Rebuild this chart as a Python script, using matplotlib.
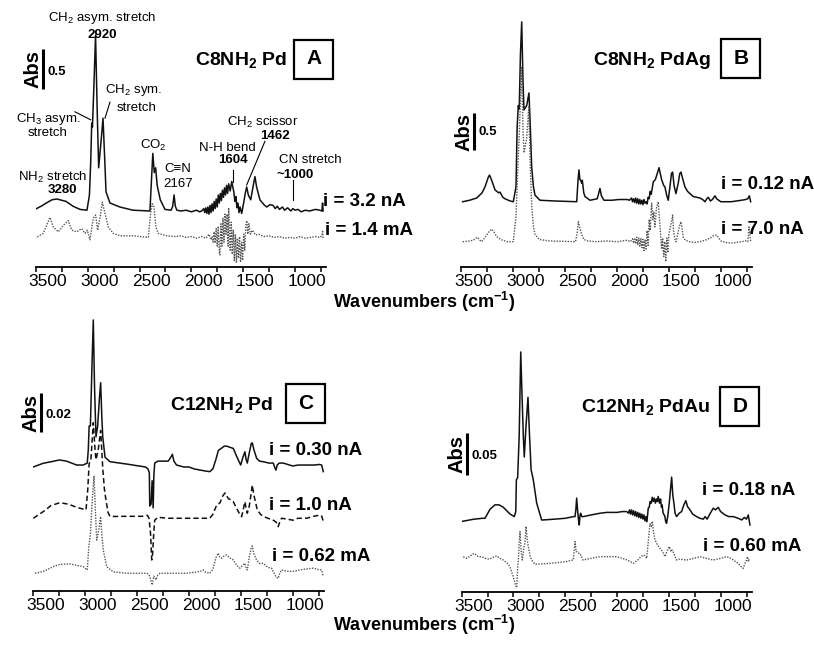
import numpy as np
import matplotlib.pyplot as plt
from matplotlib.patches import Rectangle
from matplotlib.transforms import ScaledTranslation

plt.rcParams['font.family'] = ['Liberation Sans', 'DejaVu Sans']
plt.rcParams['mathtext.fontset'] = 'custom'
plt.rcParams['mathtext.rm'] = 'Liberation Sans'
plt.rcParams['mathtext.bf'] = 'Liberation Sans:bold'
plt.rcParams['mathtext.it'] = 'Liberation Sans:italic'

# ---- spectra: (wavenumber cm-1, absorbance above own baseline)
a_solid = [
    (3510, 0.02), (3450, 0.06), (3400, 0.10), (3346, 0.14), (3300, 0.15), (3268, 0.14),
    (3210, 0.12), (3143, 0.06), (3075, 0.02), (3008, 0.01), (2984, 0.2), (2972, 0.6),
    (2962, 1.1), (2955, 1.05), (2940, 1.6), (2925, 2.2), (2910, 1.3), (2895, 0.54),
    (2870, 0.9), (2853, 1.16), (2835, 0.6), (2824, 0.24), (2786, 0.1), (2690, 0.05),
    (2564, 0.01), (2400, 0.0), (2390, 0.26), (2372, 0.72), (2358, 0.48), (2345, 0.54),
    (2330, 0.32), (2300, 0.14), (2255, 0.02), (2195, 0.01), (2180, 0.06), (2167, 0.2),
    (2155, 0.06), (2140, 0.01), (2100, 0.0), (2050, 0.01), (2000, -0.01), (1950, 0.01),
    (1920, -0.01), (1900, 0.0), (1880, 0.03), (1870, -0.02), (1860, 0.04), (1850, -0.03),
    (1840, 0.05), (1830, -0.04), (1820, 0.07), (1810, -0.02), (1800, 0.09), (1790, 0.0),
    (1780, 0.12), (1770, 0.03), (1760, 0.15), (1750, 0.05), (1740, 0.2), (1730, 0.1),
    (1720, 0.22), (1710, 0.13), (1700, 0.26), (1690, 0.17), (1680, 0.29), (1670, 0.2),
    (1660, 0.32), (1650, 0.22), (1640, 0.34), (1625, 0.25), (1610, 0.37), (1600, 0.3),
    (1590, 0.24), (1580, 0.12), (1570, 0.18), (1560, 0.04), (1550, 0.1), (1540, -0.02),
    (1530, 0.05), (1514, -0.03), (1495, 0.1), (1480, 0.22), (1466, 0.3), (1450, 0.2),
    (1427, 0.14), (1405, 0.3), (1386, 0.43), (1370, 0.3), (1338, 0.14), (1300, 0.08),
    (1273, 0.05), (1240, 0.08), (1212, 0.07), (1190, 0.03), (1170, 0.06), (1150, 0.02),
    (1120, 0.05), (1100, 0.01), (1070, 0.04), (1040, 0.0), (1020, 0.03), (1000, 0.01),
    (970, 0.02), (940, -0.01), (900, 0.01), (860, 0.0), (800, 0.02), (760, 0.01),
    (740, 0.0), (733, 0.1), (728, 0.0),
]
a_dotted = [
    (3510, 0.0), (3430, 0.06), (3365, 0.26), (3333, 0.14), (3285, 0.08), (3236, 0.16),
    (3188, 0.22), (3155, 0.1), (3107, 0.08), (3059, 0.12), (3027, 0.06), (3005, 0.1),
    (2979, -0.02), (2947, 0.25), (2924, 0.29), (2905, 0.1), (2882, 0.26), (2860, 0.45),
    (2834, 0.31), (2802, 0.14), (2754, 0.06), (2689, 0.03), (2561, 0.03), (2416, 0.01),
    (2393, 0.31), (2378, 0.43), (2361, 0.39), (2342, 0.14), (2320, 0.06), (2238, 0.03),
    (2150, 0.02), (2100, 0.03), (2050, 0.01), (2000, 0.02), (1950, 0.0), (1900, 0.02),
    (1860, 0.0), (1830, 0.05), (1810, -0.02), (1800, 0.02), (1790, -0.05), (1780, 0.08),
    (1770, -0.06), (1760, 0.12), (1750, -0.1), (1740, 0.15), (1730, -0.18), (1724, -0.21),
    (1715, 0.18), (1705, -0.1), (1695, 0.25), (1685, -0.05), (1675, 0.3), (1665, 0.05),
    (1655, 0.3), (1645, -0.1), (1640, 0.38), (1625, -0.15), (1615, 0.2), (1605, -0.2),
    (1595, 0.1), (1585, -0.28), (1575, 0.05), (1565, -0.3), (1555, 0.0), (1545, -0.25),
    (1535, 0.02), (1525, -0.3), (1515, -0.05), (1505, -0.28), (1495, 0.05), (1485, -0.15),
    (1475, 0.15), (1465, 0.22), (1455, 0.05), (1445, 0.18), (1430, 0.05), (1410, 0.1),
    (1380, 0.04), (1350, 0.05), (1300, 0.02), (1250, 0.03), (1200, 0.01), (1150, 0.02),
    (1100, 0.0), (1050, 0.01), (1000, 0.0), (950, 0.02), (900, 0.0), (850, 0.01),
    (800, 0.02), (760, 0.01), (740, 0.03), (733, 0.1), (728, 0.0),
]
b_solid = [
    (3487, 0.0), (3420, 0.02), (3352, 0.05), (3300, 0.12), (3272, 0.2), (3240, 0.33),
    (3228, 0.36), (3210, 0.3), (3175, 0.16), (3140, 0.12), (3127, 0.13), (3100, 0.06),
    (3079, 0.04), (3030, 0.01), (2999, 0.0), (2973, 0.2), (2962, 1.0), (2951, 1.3),
    (2942, 1.25), (2930, 2.0), (2918, 2.43), (2905, 1.6), (2896, 1.24), (2870, 1.3),
    (2848, 1.47), (2835, 1.0), (2822, 0.47), (2805, 0.2), (2790, 0.09), (2742, 0.02),
    (2600, 0.01), (2388, 0.0), (2375, 0.3), (2366, 0.43), (2358, 0.3), (2350, 0.29),
    (2340, 0.25), (2334, 0.29), (2320, 0.12), (2308, 0.07), (2260, 0.02), (2190, 0.04),
    (2175, 0.12), (2164, 0.18), (2150, 0.08), (2125, 0.02), (2050, 0.02), (1980, 0.03),
    (1900, 0.03), (1880, 0.02), (1860, 0.05), (1850, 0.0), (1840, 0.04), (1830, -0.01),
    (1820, 0.05), (1810, -0.02), (1800, 0.04), (1790, -0.03), (1780, 0.03), (1770, -0.03),
    (1760, 0.02), (1750, -0.04), (1740, 0.03), (1730, -0.02), (1720, 0.0), (1710, -0.03),
    (1700, 0.06), (1690, 0.04), (1680, 0.14), (1670, 0.1), (1650, 0.27), (1630, 0.3),
    (1612, 0.38), (1595, 0.46), (1570, 0.3), (1550, 0.22), (1538, 0.2), (1520, 0.08),
    (1506, 0.02), (1490, 0.2), (1475, 0.38), (1464, 0.4), (1450, 0.22), (1432, 0.11),
    (1410, 0.25), (1395, 0.38), (1383, 0.4), (1365, 0.3), (1345, 0.2), (1320, 0.14),
    (1297, 0.11), (1265, 0.07), (1230, 0.06), (1200, 0.05), (1175, 0.03), (1152, 0.0),
    (1135, 0.04), (1120, 0.06), (1100, 0.01), (1080, 0.03), (1056, 0.08), (1040, 0.04),
    (1020, 0.02), (1000, 0.0), (950, 0.0), (900, 0.0), (850, 0.01), (800, 0.02),
    (760, 0.03), (740, 0.04), (725, 0.08), (712, 0.0),
]
b_dotted = [
    (3487, 0.0), (3420, 0.01), (3384, 0.02), (3346, 0.06), (3320, 0.02), (3304, 0.0),
    (3260, 0.08), (3230, 0.14), (3207, 0.17), (3180, 0.12), (3159, 0.07), (3120, 0.03),
    (3063, 0.0), (2999, 0.0), (2973, 0.34), (2955, 1.0), (2940, 1.5), (2920, 2.35),
    (2905, 1.5), (2895, 1.2), (2870, 1.4), (2850, 1.82), (2835, 1.0), (2822, 0.5),
    (2805, 0.2), (2790, 0.1), (2750, 0.03), (2650, 0.01), (2400, 0.0), (2385, 0.1),
    (2373, 0.27), (2360, 0.2), (2350, 0.15), (2340, 0.1), (2320, 0.03), (2280, 0.01),
    (2200, 0.0), (2100, 0.01), (2000, 0.0), (1950, 0.01), (1900, 0.02), (1870, 0.0),
    (1850, 0.04), (1840, -0.02), (1830, 0.05), (1820, -0.03), (1810, 0.06), (1800, -0.04),
    (1790, 0.05), (1780, -0.06), (1770, 0.04), (1760, -0.08), (1750, 0.03), (1740, -0.12),
    (1730, 0.02), (1720, -0.1), (1710, 0.15), (1700, -0.05), (1690, 0.3), (1680, 0.15),
    (1666, 0.52), (1655, 0.3), (1645, 0.4), (1635, 0.2), (1620, 0.45), (1602, 0.54),
    (1590, 0.3), (1580, 0.1), (1570, -0.1), (1560, 0.05), (1550, -0.2), (1540, 0.0),
    (1530, -0.27), (1520, 0.05), (1510, -0.15), (1500, 0.1), (1485, 0.2), (1470, 0.3),
    (1464, 0.36), (1455, 0.15), (1440, 0.02), (1430, 0.0), (1415, 0.1), (1400, 0.2),
    (1385, 0.27), (1377, 0.22), (1360, 0.05), (1340, 0.02), (1300, 0.0), (1250, -0.01),
    (1200, 0.0), (1150, 0.02), (1100, 0.05), (1070, 0.08), (1040, 0.09), (1020, 0.05),
    (1000, 0.01), (950, -0.01), (900, -0.02), (850, -0.01), (800, 0.0), (760, 0.01),
    (740, 0.0), (728, 0.2), (712, 0.0),
]
c_solid = [
    (3500, -0.001), (3404, 0.0009), (3300, 0.002), (3249, 0.0026), (3180, 0.002),
    (3082, 0.0), (3020, 0.0), (2980, 0.001), (2970, 0.008), (2962, 0.02), (2950, 0.02),
    (2935, 0.05), (2922, 0.0744), (2910, 0.04), (2896, 0.0144), (2880, 0.02), (2862, 0.035),
    (2851, 0.0422), (2840, 0.025), (2831, 0.0145), (2809, 0.004), (2761, 0.0017),
    (2600, 0.0005), (2420, -0.001), (2395, -0.002), (2382, -0.004), (2378, -0.021),
    (2365, -0.02), (2355, -0.008), (2345, -0.022), (2338, -0.005), (2330, 0.001),
    (2300, 0.002), (2250, 0.002), (2200, 0.002), (2175, 0.004), (2160, 0.0055),
    (2145, 0.002), (2120, 0.0), (2050, -0.001), (2000, -0.001), (1950, -0.002),
    (1900, -0.0025), (1850, -0.003), (1800, -0.0034), (1770, -0.002), (1740, 0.003),
    (1717, 0.0075), (1690, 0.0085), (1660, 0.0097), (1637, 0.0097), (1600, 0.009),
    (1573, 0.0085), (1545, 0.005), (1525, 0.0026), (1502, 0.0), (1480, 0.004),
    (1461, 0.0068), (1450, 0.003), (1438, 0.001), (1420, 0.006), (1400, 0.011),
    (1390, 0.0114), (1375, 0.008), (1348, 0.0034), (1320, 0.002), (1284, 0.0017),
    (1230, 0.001), (1188, 0.001), (1175, -0.001), (1162, -0.0026), (1150, 0.0),
    (1130, 0.001), (1091, 0.001), (1000, -0.0005), (950, 0.0), (866, 0.0), (786, 0.0),
    (745, 0.0003), (722, 0.0), (706, -0.0034),
]
c_dashed = [
    (3500, 0.0), (3404, 0.0034), (3330, 0.0065), (3243, 0.008), (3160, 0.0072),
    (3082, 0.0056), (2992, 0.0043), (2975, 0.015), (2962, 0.028), (2945, 0.03),
    (2922, 0.049), (2905, 0.035), (2896, 0.03), (2875, 0.035), (2851, 0.045),
    (2830, 0.025), (2815, 0.015), (2800, 0.0094), (2780, 0.003), (2761, 0.0009),
    (2600, 0.001), (2450, 0.001), (2400, 0.0015), (2385, 0.0), (2370, -0.008),
    (2359, -0.0214), (2350, -0.018), (2340, -0.008), (2330, -0.001), (2300, 0.0005),
    (2200, 0.0), (2100, 0.0), (2000, 0.0), (1900, 0.0), (1800, 0.0), (1770, 0.002),
    (1733, 0.0068), (1700, 0.008), (1680, 0.011), (1653, 0.013), (1620, 0.01),
    (1595, 0.0095), (1573, 0.0085), (1540, 0.005), (1510, 0.002), (1493, 0.0008),
    (1475, 0.005), (1461, 0.0085), (1450, 0.005), (1438, 0.0026), (1420, 0.006),
    (1400, 0.013), (1390, 0.017), (1375, 0.012), (1342, 0.0043), (1310, 0.002),
    (1284, 0.001), (1240, 0.0), (1188, -0.001), (1160, -0.002), (1140, -0.0043),
    (1120, -0.001), (1108, 0.0), (1050, -0.0005), (996, -0.001), (950, 0.0), (866, 0.0),
    (800, 0.001), (750, 0.0015), (738, 0.0017), (720, 0.001), (706, -0.0017),
]
c_dotted = [
    (3484, 0.0), (3404, 0.0009), (3307, 0.0034), (3250, 0.0045), (3146, 0.0048),
    (3080, 0.004), (3018, 0.0034), (2980, 0.0017), (2965, 0.0137), (2950, 0.02),
    (2935, 0.035), (2915, 0.05), (2900, 0.03), (2889, 0.017), (2870, 0.022),
    (2851, 0.029), (2840, 0.02), (2826, 0.012), (2793, 0.0034), (2729, 0.0007),
    (2600, 0.0), (2408, 0.0), (2390, -0.0005), (2376, -0.0017), (2365, -0.004),
    (2353, -0.006), (2340, -0.0015), (2330, -0.002), (2318, -0.0034), (2300, -0.001),
    (2280, 0.0), (2150, 0.0), (2022, 0.0), (1950, 0.0005), (1894, 0.0009),
    (1862, 0.0017), (1840, 0.0005), (1800, 0.0), (1770, 0.002), (1740, 0.008),
    (1718, 0.0103), (1700, 0.008), (1686, 0.0077), (1660, 0.009), (1637, 0.0094),
    (1610, 0.008), (1573, 0.0068), (1540, 0.004), (1509, 0.0026), (1485, 0.004),
    (1461, 0.0051), (1445, 0.002), (1438, 0.0017), (1420, 0.008), (1400, 0.013),
    (1390, 0.014), (1375, 0.01), (1348, 0.0068), (1320, 0.005), (1284, 0.0051),
    (1240, 0.003), (1204, 0.0026), (1180, 0.0), (1160, -0.002), (1140, -0.0026),
    (1125, 0.0), (1108, 0.0017), (1050, 0.001), (996, 0.001), (900, 0.002),
    (803, 0.0026), (760, 0.002), (722, 0.0017), (706, -0.0017),
]
d_solid = [
    (3510, -0.002), (3388, 0.0008), (3300, 0.002), (3275, 0.002), (3227, 0.0127),
    (3179, 0.018), (3140, 0.018), (3098, 0.0151), (3034, 0.0071), (2992, 0.004),
    (2978, 0.01), (2972, 0.048), (2960, 0.05), (2945, 0.1), (2930, 0.2), (2918, 0.15),
    (2905, 0.1), (2896, 0.075), (2880, 0.11), (2860, 0.146), (2845, 0.1), (2830, 0.06),
    (2809, 0.048), (2776, 0.02), (2728, 0.0), (2712, 0.0), (2600, 0.001), (2500, 0.002),
    (2420, 0.004), (2406, 0.004), (2398, 0.012), (2390, 0.026), (2380, 0.01),
    (2372, 0.0), (2365, -0.006), (2358, 0.005), (2352, 0.008), (2340, 0.004),
    (2325, 0.004), (2250, 0.006), (2165, 0.008), (2100, 0.009), (2000, 0.009),
    (1950, 0.01), (1907, 0.01), (1890, 0.008), (1880, 0.012), (1870, 0.007),
    (1860, 0.012), (1850, 0.006), (1840, 0.011), (1830, 0.005), (1820, 0.01),
    (1810, 0.004), (1800, 0.009), (1790, 0.003), (1780, 0.008), (1770, 0.002),
    (1760, 0.007), (1750, 0.001), (1740, 0.006), (1730, -0.001), (1720, 0.004),
    (1714, -0.002), (1705, 0.006), (1699, 0.014), (1690, 0.015), (1680, 0.022),
    (1670, 0.02), (1660, 0.027), (1650, 0.022), (1640, 0.026), (1630, 0.02),
    (1620, 0.025), (1610, 0.022), (1603, 0.028), (1590, 0.02), (1580, 0.025),
    (1571, 0.015), (1565, 0.018), (1555, 0.008), (1540, 0.005), (1530, -0.002),
    (1522, -0.004), (1510, 0.005), (1496, 0.02), (1485, 0.035), (1473, 0.051),
    (1462, 0.03), (1451, 0.02), (1440, 0.008), (1425, 0.004), (1400, 0.008),
    (1377, 0.01), (1355, 0.018), (1336, 0.023), (1320, 0.016), (1296, 0.012),
    (1270, 0.007), (1232, 0.004), (1200, 0.002), (1167, 0.001), (1150, 0.004),
    (1130, 0.001), (1100, 0.008), (1071, 0.014), (1050, 0.012), (1023, 0.015),
    (1000, 0.01), (958, 0.006), (920, 0.004), (878, 0.004), (830, 0.002), (797, 0.0),
    (770, 0.003), (750, 0.001), (733, 0.006), (717, -0.006),
]
d_dotted = [
    (3510, 0.005), (3450, 0.002), (3381, 0.008), (3340, 0.004), (3307, 0.004),
    (3270, 0.002), (3234, 0.001), (3200, 0.003), (3162, 0.005), (3130, 0.002),
    (3098, 0.0), (3060, -0.004), (3034, -0.008), (3002, -0.02), (2980, -0.03),
    (2969, -0.033), (2960, -0.01), (2953, 0.0), (2945, 0.02), (2937, 0.034),
    (2925, 0.01), (2915, 0.0), (2900, 0.015), (2890, 0.02), (2879, 0.04),
    (2868, 0.025), (2857, 0.016), (2840, 0.005), (2825, 0.0), (2792, -0.005),
    (2648, -0.004), (2500, -0.002), (2423, 0.0), (2415, 0.01), (2406, 0.022),
    (2395, 0.01), (2384, 0.01), (2370, 0.008), (2358, 0.008), (2330, 0.0),
    (2250, 0.002), (2165, 0.004), (2100, 0.004), (2004, 0.004), (1950, 0.002),
    (1900, 0.0), (1843, -0.004), (1800, 0.0), (1770, 0.004), (1747, 0.006),
    (1730, 0.005), (1714, 0.002), (1700, 0.02), (1682, 0.043), (1670, 0.04),
    (1660, 0.046), (1650, 0.035), (1634, 0.024), (1610, 0.018), (1586, 0.014),
    (1560, 0.01), (1538, 0.004), (1520, 0.01), (1496, 0.016), (1480, 0.01),
    (1470, 0.012), (1451, 0.008), (1440, 0.004), (1425, 0.0), (1400, 0.001),
    (1328, 0.0), (1260, 0.002), (1200, 0.004), (1140, 0.002), (1071, 0.0),
    (1000, 0.002), (942, 0.004), (900, 0.002), (878, 0.0), (830, -0.004),
    (800, -0.008), (783, -0.01), (765, -0.004), (750, 0.0), (740, 0.004),
    (733, -0.002), (720, 0.002),
]

# vertical offsets of the stacked spectra (Abs)
a_offsets = [0.70, 0.36]
b_offsets = [0.878, 0.338]
c_offsets = [0.0646, 0.0373, 0.0091]
d_offsets = [0.0854, 0.0377]

a_labels = ['i = 3.2 nA', 'i = 1.4 mA']
b_labels = ['i = 0.12 nA', 'i = 7.0 nA']
c_labels = ['i = 0.30 nA', 'i = 1.0 nA', 'i = 0.62 mA']
d_labels = ['i = 0.18 nA', 'i = 0.60 mA']

titles = [r'C8NH$_\mathbf{2}$ Pd', r'C8NH$_\mathbf{2}$ PdAg',
          r'C12NH$_\mathbf{2}$ Pd', r'C12NH$_\mathbf{2}$ PdAu']
letters = ['A', 'B', 'C', 'D']
scale_bars = [0.5, 0.5, 0.02, 0.05]
ticks = np.arange(3500, 700, -250)

SOLID = dict(color='#111111', lw=1.1, ls='-')
DOTTED = dict(color='#555555', lw=1.0, ls=(0, (1, 1)))
DASHED = dict(color='#111111', lw=1.1, ls=(0, (3.5, 2)))

W, H = 814, 650
fig = plt.figure(figsize=(W / 100, H / 100), dpi=100)


def make_axes(left, base, width, top, ymax):
    ax = fig.add_axes([left / W, (H - base) / H, width / W, (base - top) / H])
    ax.set_xlim(3500, 700)
    ax.set_ylim(0, ymax)
    for s in ('left', 'right', 'top'):
        ax.spines[s].set_visible(False)
    ax.spines['bottom'].set_linewidth(1.3)
    ax.patch.set_visible(False)
    ax.set_yticks([])
    ax.set_xticks(ticks)
    ax.set_xticklabels([str(t) if t % 500 == 0 else '' for t in ticks])
    ax.tick_params(axis='x', direction='out', length=3.5, width=1.1,
                   labelsize=12.5, pad=1.5)
    shift = ScaledTranslation(0.12, 0, fig.dpi_scale_trans)
    for t in ax.xaxis.get_major_ticks():
        t.label1.set_transform(t.label1.get_transform() + shift)
    return ax


def trace(ax, pts, offset, style):
    arr = np.array(pts)
    ax.plot(arr[:, 0], arr[:, 1] + offset, **style)


def box(ax, x, y, letter):
    tr = fig.dpi_scale_trans + ScaledTranslation(x, y, ax.transData)
    ax.add_patch(Rectangle((-0.195, -0.195), 0.39, 0.39, transform=tr, fill=False,
                           lw=1.6, ec='k', clip_on=False))
    ax.text(x, y, letter, ha='center', va='center', fontsize=15, fontweight='bold')


def scale(ax, x, y0, size, lab, lab_y):
    ax.plot([x, x], [y0, y0 + size], color='k', lw=2.2, clip_on=False,
            solid_capstyle='butt')
    ax.text(x + 95, y0 + size / 2, 'Abs', rotation=90, ha='center', va='center',
            fontsize=14.5, fontweight='bold')
    ax.text(x - 40, lab_y, lab, ha='left', va='center', fontsize=9.5, fontweight='bold')


axA = make_axes(36, 267, 290, 5, 262 / 80)
axB = make_axes(461.3, 266.7, 290.6, 5, 261.7 / 74)
axC = make_axes(33.3, 591, 290.6, 310, 281 / 1950)
axD = make_axes(461.7, 591.7, 290, 310, 281.7 / 840)

# panel A
trace(axA, a_solid, a_offsets[0], SOLID)
trace(axA, a_dotted, a_offsets[1], DOTTED)
# panel B
trace(axB, b_solid, b_offsets[0], SOLID)
trace(axB, b_dotted, b_offsets[1], DOTTED)
# panel C
trace(axC, c_solid, c_offsets[0], SOLID)
trace(axC, c_dashed, c_offsets[1], DASHED)
trace(axC, c_dotted, c_offsets[2], DOTTED)
# panel D
trace(axD, d_solid, d_offsets[0], SOLID)
trace(axD, d_dotted, d_offsets[1], DOTTED)

# titles, boxes, scale bars, current labels
title_pos = [(axA, 1077, 2.59, 817, 2.60), (axB, 1088, 2.79, 808, 2.82),
             (axC, 1191, 0.0954, 873, 0.0964), (axD, 1103, 0.220, 814, 0.220)]
for (ax, tx, ty, bx, by), t, l in zip(title_pos, titles, letters):
    ax.text(tx, ty, t, ha='right', va='center', fontsize=14, fontweight='bold')
    box(ax, bx, by, l)

scale(axA, 3432, 2.22, scale_bars[0], '0.5', 2.44)
scale(axB, 3378, 1.577, scale_bars[1], '0.5', 1.82)
scale(axC, 3426, 0.0815, scale_bars[2], '0.02', 0.0903)
scale(axD, 3449, 0.139, scale_bars[3], '0.05', 0.162)

lab_pos = [(axA, a_labels, [(730, 0.816), (710, 0.46)]),
           (axB, b_labels, [(1001, 1.11), (1001, 0.496)]),
           (axC, c_labels, [(1229, 0.0723), (1229, 0.0436), (1203, 0.0176)]),
           (axD, d_labels, [(1180, 0.121), (1167, 0.0536)])]
for ax, labs, pos in lab_pos:
    for lab, (x, y) in zip(labs, pos):
        ax.text(x, y, lab, ha='left', va='center', fontsize=13.5, fontweight='bold')

# band assignments in panel A
fs = 9.5
notes = [
    (2863, 3.11, r'CH$_2$ asym. stretch', 'normal'),
    (2863, 2.90, '2920', 'bold'),
    (3384, 1.855, r'CH$_3$ asym.', 'normal'),
    (3384, 1.67, 'stretch', 'normal'),
    (2554, 2.21, r'CH$_2$ sym.', 'normal'),
    (2525, 1.99, 'stretch', 'normal'),
    (2371, 1.525, r'CO$_2$', 'normal'),
    (2129, 1.225, 'C≡N', 'normal'),
    (2129, 1.04, '2167', 'normal'),
    (3336, 1.125, r'NH$_2$ stretch', 'normal'),
    (3249, 0.96, '3280', 'bold'),
    (1656, 1.49, 'N-H bend', 'normal'),
    (1598, 1.335, '1604', 'bold'),
    (1309, 1.805, r'CH$_2$ scissor', 'normal'),
    (1193, 1.635, '1462', 'bold'),
    (855, 1.34, 'CN stretch', 'normal'),
    (1000, 1.15, '~1000', 'bold'),
]
for x, y, s, w in notes:
    axA.text(x, y, s, ha='center', va='center', fontsize=fs, fontweight=w)

leaders = [((3124, 2972), (1.94, 1.84)), ((2786, 2834), (2.06, 1.86)),
           ((1598, 1598), (1.21, 1.06)), ((1290, 1466), (1.57, 1.025)),
           ((1022, 1022), (1.09, 0.84))]
for xs, ys in leaders:
    axA.plot(xs, ys, color='k', lw=0.8)

for yy in (302, 625):
    fig.text(424 / W, 1 - yy / H, r'Wavenumbers (cm$^{\mathbf{-1}}$)', ha='center',
             va='center', fontsize=13, fontweight='bold')

fig.savefig('out.png', dpi=100)
